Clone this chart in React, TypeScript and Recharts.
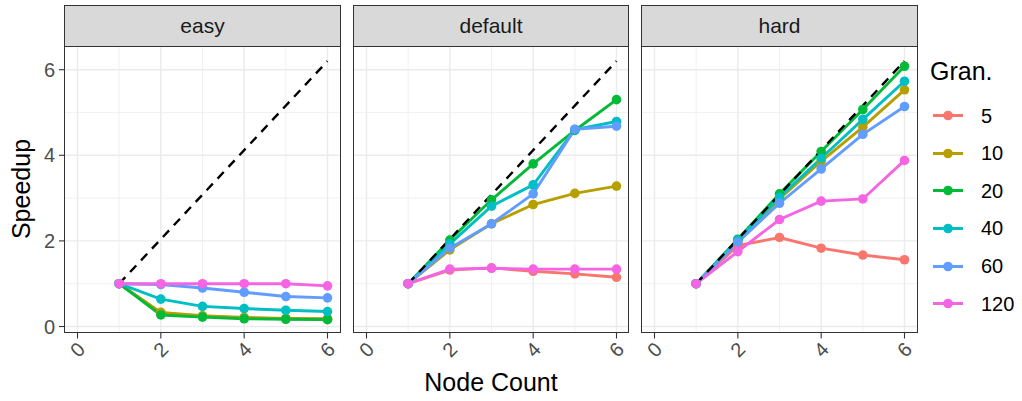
import { LineChart, Line, XAxis, YAxis, CartesianGrid } from 'recharts';

const nodes = [1, 2, 3, 4, 5, 6];
const grans = ['5', '10', '20', '40', '60', '120'];
const granColors = ['#F8766D', '#B79F00', '#00BA38', '#00BFC4', '#619CFF', '#F564E3'];

// speedup per granularity, one value per node count
const easy = {
  '5': [1, 0.31, 0.24, 0.2, 0.18, 0.17],
  '10': [1, 0.33, 0.25, 0.21, 0.19, 0.18],
  '20': [1, 0.27, 0.22, 0.18, 0.17, 0.16],
  '40': [1, 0.64, 0.47, 0.42, 0.38, 0.35],
  '60': [1, 0.98, 0.9, 0.8, 0.7, 0.67],
  '120': [1, 1.0, 1.0, 1.0, 1.0, 0.95],
};
const normal = {
  '5': [1, 1.32, 1.37, 1.29, 1.23, 1.15],
  '10': [1, 1.79, 2.4, 2.85, 3.11, 3.28],
  '20': [1, 2.02, 2.96, 3.8, 4.58, 5.3],
  '40': [1, 1.93, 2.81, 3.31, 4.6, 4.79],
  '60': [1, 1.83, 2.4, 3.1, 4.61, 4.68],
  '120': [1, 1.34, 1.36, 1.34, 1.34, 1.34],
};
const hard = {
  '5': [1, 1.89, 2.08, 1.83, 1.67, 1.56],
  '10': [1, 2.0, 2.98, 3.86, 4.66, 5.53],
  '20': [1, 2.04, 3.1, 4.09, 5.07, 6.08],
  '40': [1, 2.02, 3.02, 3.93, 4.84, 5.73],
  '60': [1, 1.97, 2.88, 3.68, 4.49, 5.14],
  '120': [1, 1.75, 2.5, 2.93, 2.98, 3.88],
};

// dashed reference line endpoints
const idealX = [1, 6];
const idealY = [1, 6.2];

const facets = [
  { name: 'easy', values: easy },
  { name: 'default', values: normal },
  { name: 'hard', values: hard },
];

const xTicks = [0, 2, 4, 6];
const yTicks = [0, 2, 4, 6];
const minorTicks = [1, 3, 5];

const FONT = '"Liberation Sans", Arial, Helvetica, sans-serif';
const PANEL_W = 275;
const PANEL_H = 285.5;
const PANEL_TOP = 46.5;
const STRIP_TOP = 5.3;
const panelLefts = [65, 353.5, 642];
const X_AXIS_H = 45;
const Y_AXIS_W = 65;

const buildRows = (values: Record<string, number[]>) =>
  nodes.map((n, i) => {
    const row: Record<string, number> = { node: n };
    grans.forEach((g) => {
      row['g' + g] = values[g][i];
    });
    return row;
  });

const idealRows = idealX.map((x, i) => ({ node: x, ideal: idealY[i] }));

const XTick = (props: any) => {
  const { x, y, payload } = props;
  const cy = y + 9;
  return (
    <text
      x={x}
      y={cy}
      transform={`rotate(-45, ${x}, ${cy})`}
      textAnchor="middle"
      dominantBaseline="central"
      fill="#4D4D4D"
      fontSize={20}
      fontFamily={FONT}
    >
      {payload.value}
    </text>
  );
};

function Panel({ idx, name, values }: { idx: number; name: string; values: Record<string, number[]> }) {
  const first = idx === 0;
  const left = panelLefts[idx];
  const chartLeft = first ? left - Y_AXIS_W : left;
  const width = first ? PANEL_W + Y_AXIS_W : PANEL_W;
  const rows = buildRows(values);

  return (
    <>
      <div
        style={{
          position: 'absolute',
          left: left - 0.6,
          top: STRIP_TOP,
          width: PANEL_W + 1.2,
          height: PANEL_TOP - STRIP_TOP + 0.6,
          boxSizing: 'border-box',
          background: '#D9D9D9',
          border: '1.3px solid #333333',
          display: 'flex',
          alignItems: 'center',
          justifyContent: 'center',
          fontFamily: FONT,
          fontSize: 21,
          color: '#1A1A1A',
        }}
      >
        {name}
      </div>
      <div style={{ position: 'absolute', left: chartLeft, top: PANEL_TOP }}>
        <LineChart
          width={width}
          height={PANEL_H + X_AXIS_H}
          data={rows}
          margin={{ top: 0, right: 0, bottom: 0, left: 0 }}
        >
          <CartesianGrid
            stroke="#EBEBEB"
            strokeWidth={0.7}
            horizontalValues={minorTicks}
            verticalValues={minorTicks}
          />
          <CartesianGrid
            stroke="#EBEBEB"
            strokeWidth={1.4}
            horizontalValues={yTicks}
            verticalValues={xTicks}
          />
          <XAxis
            dataKey="node"
            type="number"
            domain={[-0.3, 6.3]}
            ticks={xTicks}
            allowDataOverflow
            height={X_AXIS_H}
            axisLine={false}
            tickLine={{ stroke: '#333333', strokeWidth: 1.1 }}
            tickSize={6}
            tick={<XTick />}
            interval={0}
          />
          <YAxis
            type="number"
            domain={[-0.14, 6.53]}
            ticks={yTicks}
            allowDataOverflow
            hide={!first}
            width={Y_AXIS_W}
            axisLine={false}
            tickLine={{ stroke: '#333333', strokeWidth: 1.1 }}
            tickSize={6}
            tickMargin={4}
            tick={{ fill: '#4D4D4D', fontSize: 20, fontFamily: FONT }}
            interval={0}
          />
          {grans.map((g, i) => (
            <Line
              key={g}
              dataKey={'g' + g}
              stroke={granColors[i]}
              strokeWidth={2.9}
              dot={{ r: 4.8, fill: granColors[i], stroke: 'none' }}
              isAnimationActive={false}
            />
          ))}
          <Line
            data={idealRows}
            dataKey="ideal"
            stroke="#000000"
            strokeWidth={2.4}
            strokeDasharray="9 7"
            dot={false}
            isAnimationActive={false}
          />
        </LineChart>
      </div>
      <div
        style={{
          position: 'absolute',
          left: left - 0.6,
          top: PANEL_TOP - 0.6,
          width: PANEL_W + 1.2,
          height: PANEL_H + 1.2,
          boxSizing: 'border-box',
          border: '1.3px solid #333333',
          pointerEvents: 'none',
        }}
      />
    </>
  );
}

export default function App() {
  const legendTop = [115.6, 153, 190.7, 228.3, 266, 303.6];
  return (
    <div style={{ position: 'absolute', left: 0, top: 0, width: 1022, height: 401, background: '#FFFFFF', fontFamily: FONT }}>
      {facets.map((f, i) => (
        <Panel key={f.name} idx={i} name={f.name} values={f.values} />
      ))}
      <div
        style={{
          position: 'absolute',
          left: 21,
          top: 189,
          transform: 'translate(-50%, -50%) rotate(-90deg)',
          fontSize: 25,
          color: '#000',
          whiteSpace: 'nowrap',
        }}
      >
        Speedup
      </div>
      <div
        style={{
          position: 'absolute',
          left: 491,
          top: 382,
          transform: 'translate(-50%, -50%)',
          fontSize: 25,
          color: '#000',
          whiteSpace: 'nowrap',
        }}
      >
        Node Count
      </div>
      <div style={{ position: 'absolute', left: 930, top: 71, transform: 'translateY(-50%)', fontSize: 25, color: '#000' }}>
        Gran.
      </div>
      {grans.map((g, i) => (
        <div
          key={g}
          style={{
            position: 'absolute',
            left: 931,
            top: legendTop[i],
            transform: 'translateY(-50%)',
            display: 'flex',
            alignItems: 'center',
          }}
        >
          <svg width={34} height={14}>
            <line x1={2} y1={7} x2={32} y2={7} stroke={granColors[i]} strokeWidth={2.9} />
            <circle cx={17} cy={7} r={4.8} fill={granColors[i]} />
          </svg>
          <span style={{ marginLeft: 16, fontSize: 20, color: '#000' }}>{g}</span>
        </div>
      ))}
    </div>
  );
}
